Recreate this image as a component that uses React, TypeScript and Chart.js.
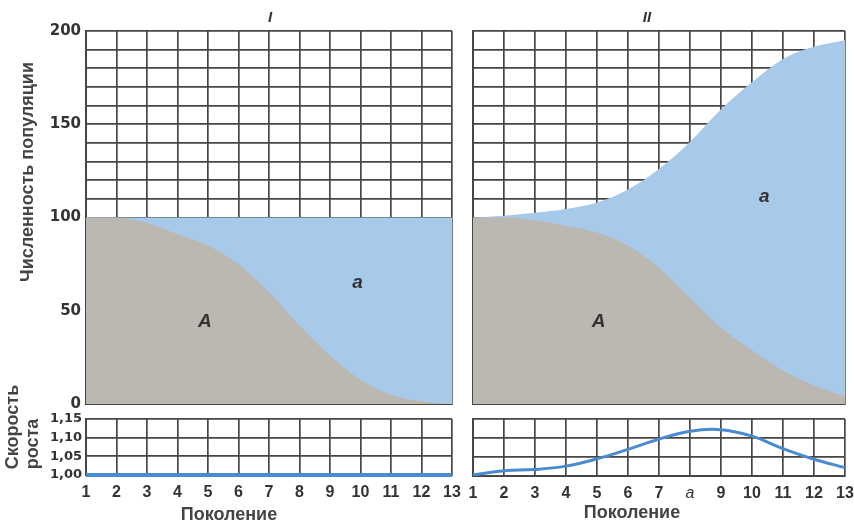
import React, { useEffect, useRef } from 'react';
import { Chart, registerables } from 'chart.js';
Chart.register(...registerables);

// ---- data ----
const generations = [1, 2, 3, 4, 5, 6, 7, 8, 9, 10, 11, 12, 13];
const xTickLabelsI = ['1', '2', '3', '4', '5', '6', '7', '8', '9', '10', '11', '12', '13'];
const xTickLabelsII = ['1', '2', '3', '4', '5', '6', '7', 'a', '9', '10', '11', '12', '13'];
const populationTickValues = [0, 50, 100, 150, 200];

// Panel I: constant population, allele A replaced by a
const alleleA_I = [100, 100, 97, 91, 85, 75, 60, 42, 26, 13, 5, 1.5, 0];
const total_I = [100, 100, 100, 100, 100, 100, 100, 100, 100, 100, 100, 100, 100];
const growth_I = [1, 1, 1, 1, 1, 1, 1, 1, 1, 1, 1, 1, 1];

// Panel II: growing population
const alleleA_II = [100, 100, 98.5, 95.5, 92, 85, 73, 57, 41, 29, 18, 10, 4];
const total_II = [100, 101, 102.5, 104.5, 108, 115, 126, 140.5, 158, 172.5, 185, 191.5, 195];
const growth_II = [1.003, 1.014, 1.017, 1.026, 1.045, 1.07, 1.097, 1.118, 1.122, 1.105, 1.072, 1.044, 1.022];

const labelsI = [
  { text: 'A', gen: 4.9, value: 44 },
  { text: 'a', gen: 9.9, value: 65 },
];
const labelsII = [
  { text: 'A', gen: 5.05, value: 44 },
  { text: 'a', gen: 10.4, value: 111 },
];

// ---- styles ----
const W = 854;
const H = 526;
const GRAY = '#bbb8b2';
const BLUE = '#a7c9ea';
const GRID = '#4a4540';
const LINE_BLUE = '#4a8bd0';
const TICK_COLOR = '#333';

type Area = { left: number; top: number; right: number; bottom: number };

const pts = (ys: number[]) => generations.map((g, i) => ({ x: g, y: ys[i] }));

const labelPlugin = (items: { text: string; gen: number; value: number }[]) => ({
  id: 'areaLabels',
  afterDraw(chart: any) {
    const ctx = chart.ctx;
    const xs = chart.scales.x;
    const ys = chart.scales.y;
    ctx.save();
    ctx.font = 'italic bold 19px "Liberation Sans", Arial, sans-serif';
    ctx.fillStyle = '#333';
    ctx.textAlign = 'center';
    ctx.textBaseline = 'middle';
    for (const it of items) {
      ctx.fillText(it.text, xs.getPixelForValue(it.gen), ys.getPixelForValue(it.value));
    }
    ctx.restore();
  },
});

const X_LABEL_BAND = 30;

function baseX(tickLabels: string[] | null) {
  const band = tickLabels ? X_LABEL_BAND : 0;
  return {
    type: 'linear',
    min: 1,
    max: 13,
    z: 1,
    ticks: {
      display: !!tickLabels,
      stepSize: 1,
      autoSkip: false,
      maxRotation: 0,
      padding: 8,
      color: TICK_COLOR,
      font: (c: any) => ({
        family: '"Liberation Sans", Arial, sans-serif',
        size: 16,
        weight: c.tick && c.tick.label === 'a' ? 'normal' : 'bold',
        style: c.tick && c.tick.label === 'a' ? 'italic' : 'normal',
      }),
      callback: (v: number) => (tickLabels ? tickLabels[Math.round(v) - 1] : ''),
    },
    grid: { color: GRID, lineWidth: 1.7, drawTicks: false },
    border: { color: GRID, width: 2 },
    afterFit: (s: any) => {
      s.height = band;
      s.paddingLeft = 0;
      s.paddingRight = 0;
    },
  };
}

function mainConfig(area: Area, A: number[], total: number[], showY: boolean, labels: any[]) {
  return {
    type: 'line',
    data: {
      datasets: [
        {
          label: 'A',
          data: pts(A),
          fill: 'origin',
          backgroundColor: GRAY,
          borderWidth: 0,
          pointRadius: 0,
          cubicInterpolationMode: 'monotone',
        },
        {
          label: 'a',
          data: pts(total),
          fill: 'origin',
          backgroundColor: BLUE,
          borderWidth: 0,
          pointRadius: 0,
          cubicInterpolationMode: 'monotone',
        },
      ],
    },
    options: {
      responsive: false,
      animation: false,
      events: [],
      layout: { padding: { left: 0, top: area.top, right: W - area.right, bottom: H - area.bottom } },
      plugins: { legend: { display: false }, tooltip: { enabled: false }, title: { display: false } },
      scales: {
        x: baseX(null),
        y: {
          min: 0,
          max: 200,
          z: 1,
          ticks: {
            display: showY,
            stepSize: 10,
            autoSkip: false,
            padding: 5,
            color: TICK_COLOR,
            font: { family: '"DejaVu Sans", sans-serif', size: 15, weight: 'bold' },
            callback: (v: number) => (populationTickValues.includes(Math.round(v)) ? String(Math.round(v)) : ''),
          },
          grid: { color: GRID, lineWidth: 1.7, drawTicks: false },
          border: { color: GRID, width: 2 },
          afterFit: (s: any) => {
            s.width = area.left;
            s.paddingTop = 0;
            s.paddingBottom = 0;
          },
        },
      },
    },
    plugins: [labelPlugin(labels)],
  };
}

function growthConfig(area: Area, growth: number[], showY: boolean, tickLabels: string[], lineWidth: number) {
  return {
    type: 'line',
    data: {
      datasets: [
        {
          label: 'Скорость роста',
          data: pts(growth),
          borderColor: LINE_BLUE,
          borderWidth: lineWidth,
          pointRadius: 0,
          fill: false,
          tension: 0.4,
          clip: 4,
        },
      ],
    },
    options: {
      responsive: false,
      animation: false,
      events: [],
      layout: {
        padding: { left: 0, top: area.top, right: W - area.right, bottom: H - area.bottom - X_LABEL_BAND },
      },
      plugins: { legend: { display: false }, tooltip: { enabled: false }, title: { display: false } },
      scales: {
        x: baseX(tickLabels),
        y: {
          min: 1,
          max: 1.15,
          z: 1,
          ticks: {
            display: showY,
            count: 4,
            autoSkip: false,
            padding: 4,
            color: TICK_COLOR,
            font: { family: '"DejaVu Sans", sans-serif', size: 13, weight: 'bold' },
            callback: (v: number) => v.toFixed(2).replace('.', ','),
          },
          grid: { color: GRID, lineWidth: 1.7, drawTicks: false },
          border: { color: GRID, width: 2 },
          afterFit: (s: any) => {
            s.width = area.left;
            s.paddingTop = 0;
            s.paddingBottom = 0;
          },
        },
      },
    },
  };
}

const mainAreaI: Area = { left: 86, top: 31, right: 452, bottom: 404 };
const mainAreaII: Area = { left: 473, top: 31, right: 845, bottom: 404 };
const growthAreaI: Area = { left: 86, top: 419, right: 452, bottom: 475 };
const growthAreaII: Area = { left: 473, top: 419, right: 845, bottom: 476 };

const canvasStyle: React.CSSProperties = { position: 'absolute', left: 0, top: 0 };
const textBase: React.CSSProperties = {
  position: 'absolute',
  fontFamily: '"Liberation Sans", Arial, sans-serif',
  fontWeight: 'bold',
  color: '#444',
  whiteSpace: 'nowrap',
  lineHeight: 1,
};

export default function App() {
  const r1 = useRef<HTMLCanvasElement>(null);
  const r2 = useRef<HTMLCanvasElement>(null);
  const r3 = useRef<HTMLCanvasElement>(null);
  const r4 = useRef<HTMLCanvasElement>(null);

  useEffect(() => {
    const charts = [
      new Chart(r1.current as any, mainConfig(mainAreaI, alleleA_I, total_I, true, labelsI) as any),
      new Chart(r2.current as any, mainConfig(mainAreaII, alleleA_II, total_II, false, labelsII) as any),
      new Chart(r3.current as any, growthConfig(growthAreaI, growth_I, true, xTickLabelsI, 4) as any),
      new Chart(r4.current as any, growthConfig(growthAreaII, growth_II, false, xTickLabelsII, 3) as any),
    ];
    return () => charts.forEach((c) => c.destroy());
  }, []);

  return (
    <div style={{ position: 'absolute', left: 0, top: 0, width: W, height: H, background: '#fff', overflow: 'hidden' }}>
      <canvas ref={r1} width={W} height={H} style={canvasStyle} />
      <canvas ref={r2} width={W} height={H} style={canvasStyle} />
      <canvas ref={r3} width={W} height={H} style={canvasStyle} />
      <canvas ref={r4} width={W} height={H} style={canvasStyle} />
      <div style={{ ...textBase, left: 270, top: 16, transform: 'translate(-50%,-50%)', fontStyle: 'italic', fontSize: 15, color: '#333' }}>I</div>
      <div style={{ ...textBase, left: 647, top: 16, transform: 'translate(-50%,-50%)', fontStyle: 'italic', fontSize: 15, color: '#333' }}>II</div>
      <div style={{ ...textBase, left: 27, top: 172, fontSize: 18, transform: 'translate(-50%,-50%) rotate(-90deg)' }}>
        Численность популяции
      </div>
      <div
        style={{
          ...textBase,
          left: 22,
          top: 427,
          fontSize: 18,
          lineHeight: '20px',
          textAlign: 'left',
          whiteSpace: 'pre',
          transform: 'translate(-50%,-50%) rotate(-90deg)',
        }}
      >
        {'Скорость\nроста'}
      </div>
      <div style={{ ...textBase, left: 229, top: 514, fontSize: 18, transform: 'translate(-50%,-50%)' }}>Поколение</div>
      <div style={{ ...textBase, left: 632, top: 512, fontSize: 18, transform: 'translate(-50%,-50%)' }}>Поколение</div>
    </div>
  );
}
